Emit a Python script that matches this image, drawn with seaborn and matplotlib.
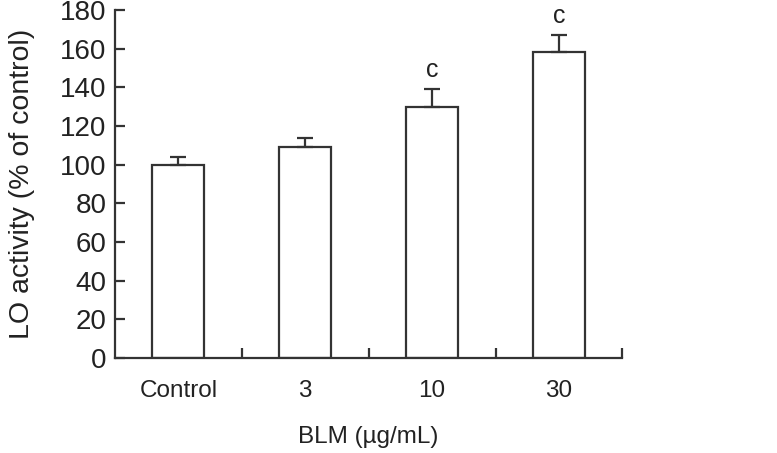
import numpy as np
import pandas as pd
import seaborn as sns
import matplotlib.pyplot as plt
from matplotlib.ticker import FixedLocator

# values
groups = ['Control', '3', '10', '30']
means = [100, 109, 130, 158]
errors = [4, 5, 9, 9]
marks = ['', '', 'c', 'c']

sns.set_theme(style="ticks", rc={'xtick.direction': 'in', 'ytick.direction': 'in'})
plt.rcParams['font.family'] = ['Liberation Sans', 'DejaVu Sans']

df = pd.DataFrame({'BLM': groups, 'activity': means})
edge = '#333333'
txt = '#222222'

fig = plt.figure(figsize=(7.77, 4.53), dpi=100)
ax = fig.add_axes([0.148, 0.21, 0.653, 0.768])

sns.barplot(data=df, x='BLM', y='activity', color='white', edgecolor=edge,
            linewidth=1.6, width=0.41, saturation=1, ax=ax)
xs = np.arange(len(groups))
ax.errorbar(xs, means, yerr=[np.zeros(len(errors)), errors], fmt='none',
            ecolor=edge, elinewidth=1.6, capsize=5.5, capthick=1.6, zorder=1)

for x, m, e, t in zip(xs, means, errors, marks):
    if t:
        ax.annotate(t, (x, m + e), xytext=(0, 5), textcoords='offset points',
                    ha='center', va='bottom', fontsize=18, color=txt)

ax.set_xlim(-0.5, 3.5)
ax.set_ylim(0, 180)
ax.set_yticks(range(0, 181, 20))
ax.xaxis.set_minor_locator(FixedLocator([0.5, 1.5, 2.5, 3.5]))
ax.tick_params(axis='x', which='major', length=0, pad=16, labelsize=17.5, labelcolor=txt)
ax.tick_params(axis='x', which='minor', direction='in', length=7, width=1.6, color=edge)
ax.tick_params(axis='y', which='major', direction='in', length=7, width=1.6, color=edge,
               pad=6, labelsize=20, labelcolor=txt)
for s in ['top', 'right']:
    ax.spines[s].set_visible(False)
for s in ['left', 'bottom']:
    ax.spines[s].set_linewidth(1.6)
    ax.spines[s].set_color(edge)

ax.set_xlabel('BLM (µg/mL)', fontsize=17.5, color=txt, labelpad=17)
ax.set_ylabel('LO activity (% of control)', fontsize=20.5, color=txt, labelpad=18)

fig.savefig('out.png', dpi=100)
